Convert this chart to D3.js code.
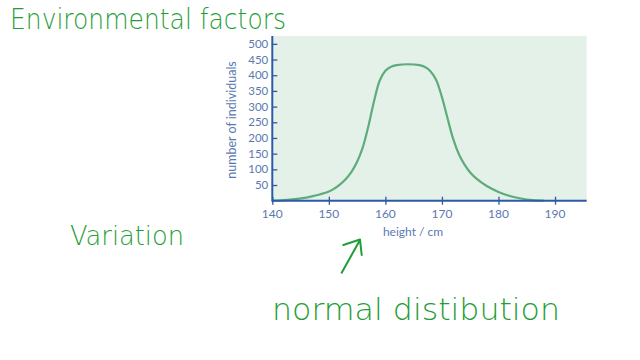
<!DOCTYPE html>
<html>
<head>
<meta charset="utf-8">
<script src="https://cdn.jsdelivr.net/npm/d3@7"></script>
<style>
  html, body { margin: 0; padding: 0; background: #ffffff; }
  svg { display: block; }
</style>
</head>
<body>
<svg id="chart" width="640" height="360"></svg>
<script>
// ---- data ----
const heights = [140, 142, 144, 146, 148, 150, 151, 152, 153, 154, 155, 156, 157, 158, 159, 160, 161, 162, 164, 166, 167, 168, 169, 170, 171, 172, 173, 174, 175, 176, 178, 180, 182, 184, 186, 188];
const counts  = [0,   2,   5,   10,  18,  29,  39,  52,  69,  92,  124, 170, 238, 318, 383, 414, 427, 432, 435, 432, 426, 412, 384, 330, 262, 196, 148, 115, 90,  72,  46,  28,  15,  7,   2,   0];
const xTicks = [140, 150, 160, 170, 180, 190];
const yTicks = [50, 100, 150, 200, 250, 300, 350, 400, 450, 500];
const xLabel = "height / cm";
const yLabel = "number of individuals";
const notes = [
  { text: "Environmental factors", x: 10, y: 29, size: 29, len: 276 },
  { text: "Variation", x: 70, y: 245, size: 27, len: 114 },
  { text: "normal  distibution", x: 272, y: 320, size: 31, len: 288 }
];

// ---- layout ----
const svg = d3.select("#chart");
const pLeft = 272.3, pRight = 586.7, pTop = 36, pBottom = 200.7;
const x = d3.scaleLinear().domain([140, 195.6]).range([pLeft, pRight]);
const y = d3.scaleLinear().domain([0, 525]).range([pBottom, pTop]);

const axisBlue = "#2b5aa8";
const textBlue = "#5b79b1";
const curveGreen = "#5eab7c";
const inkGreen = "#1f9e36";

// plot background
svg.append("rect")
  .attr("x", pLeft).attr("y", pTop)
  .attr("width", pRight - pLeft).attr("height", pBottom - pTop)
  .attr("fill", "#e4f1e8");

// curve
const line = d3.line()
  .x((d, i) => x(heights[i]))
  .y(d => y(d))
  .curve(d3.curveCatmullRom.alpha(0.5));
svg.append("path")
  .attr("d", line(counts))
  .attr("fill", "none")
  .attr("stroke", curveGreen)
  .attr("stroke-width", 2.2);

// y axis
const yAxis = d3.axisRight(y).tickValues(yTicks).tickSize(5).tickFormat("");
const gy = svg.append("g").attr("transform", `translate(${pLeft},0)`).call(yAxis);
gy.select(".domain").remove();
gy.selectAll(".tick line").attr("stroke", axisBlue).attr("stroke-width", 1.3);
svg.append("line")
  .attr("x1", pLeft).attr("x2", pLeft).attr("y1", pTop).attr("y2", pBottom + 1)
  .attr("stroke", axisBlue).attr("stroke-width", 2);
svg.append("g").selectAll("text").data(yTicks).join("text")
  .attr("x", pLeft - 4).attr("y", d => y(d)).attr("dy", "0.35em")
  .attr("text-anchor", "end")
  .attr("font-family", "Lato, 'Open Sans', sans-serif")
  .attr("font-size", 11.5).attr("fill", textBlue)
  .text(d => d);

// x axis
const xAxis = d3.axisBottom(x).tickValues(xTicks).tickSize(4).tickFormat("");
const gx = svg.append("g").attr("transform", `translate(0,${pBottom})`).call(xAxis);
gx.select(".domain").remove();
gx.selectAll(".tick line").attr("stroke", axisBlue).attr("stroke-width", 1.3).attr("y1", -4);
svg.append("line")
  .attr("x1", pLeft).attr("x2", pRight).attr("y1", pBottom).attr("y2", pBottom)
  .attr("stroke", axisBlue).attr("stroke-width", 2);
svg.append("g").selectAll("text").data(xTicks).join("text")
  .attr("x", d => x(d)).attr("y", 218)
  .attr("text-anchor", "middle")
  .attr("font-family", "Lato, 'Open Sans', sans-serif")
  .attr("font-size", 12).attr("fill", textBlue)
  .text(d => d);

// axis titles
svg.append("text")
  .attr("x", 413).attr("y", 236)
  .attr("text-anchor", "middle")
  .attr("font-family", "Lato, 'Open Sans', sans-serif")
  .attr("font-size", 12).attr("fill", textBlue)
  .text(xLabel);
svg.append("text")
  .attr("transform", `translate(236,120) rotate(-90)`)
  .attr("text-anchor", "middle")
  .attr("font-family", "Lato, 'Open Sans', sans-serif")
  .attr("font-size", 12.5).attr("fill", textBlue)
  .text(yLabel);

// handwritten notes
svg.append("g").selectAll("text").data(notes).join("text")
  .attr("x", d => d.x).attr("y", d => d.y)
  .attr("font-family", "'DejaVu Sans', sans-serif")
  .attr("font-weight", 300)
  .attr("font-size", d => d.size)
  .attr("fill", inkGreen)
  .attr("textLength", d => d.len)
  .attr("lengthAdjust", "spacingAndGlyphs")
  .text(d => d.text);

// arrow
svg.append("path")
  .attr("d", "M341.7,272.7 L360,240 M343.3,245 L360,239.5 L361.7,255")
  .attr("fill", "none")
  .attr("stroke", inkGreen)
  .attr("stroke-width", 2)
  .attr("stroke-linecap", "round")
  .attr("stroke-linejoin", "round");
</script>
</body>
</html>
